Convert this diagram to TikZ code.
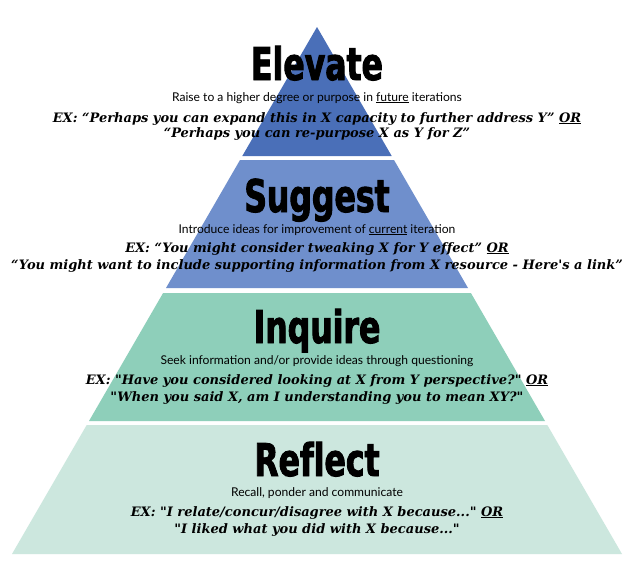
\documentclass[tikz,border=0pt]{standalone}
\usepackage{fontspec}
\newfontfamily\titlefont[FakeStretch=0.7,FakeBold=2,Ligatures=NoCommon]{DejaVu Sans}
\newfontfamily\subfont{Lato}
\newfontfamily\exfont[Ligatures=NoCommon]{DejaVu Serif}
\definecolor{elevc}{HTML}{4A6FB8}
\definecolor{suggc}{HTML}{6F8FCC}
\definecolor{inqc}{HTML}{8ECFBA}
\definecolor{reflc}{HTML}{CCE7DE}
\begin{document}
\begin{tikzpicture}[x=1pt,y=-1pt,
  ttl/.style={font=\titlefont\bfseries\fontsize{45}{45}\selectfont, anchor=base, inner sep=0pt},
  sub/.style={font=\subfont\fontsize{12.1}{13}\selectfont, anchor=base, inner sep=0pt},
  ex/.style={font=\exfont\bfseries\itshape\fontsize{13}{13}\selectfont, anchor=base, inner sep=0pt}]
\useasboundingbox (0,0) rectangle (644,563);
\fill[white] (0,0) rectangle (644,563);
% bands
\fill[elevc] (317,27) -- (391.7,156) -- (242.3,156) -- cycle;
\fill[suggc] (240,160) -- (394,160) -- (468,288) -- (166,288) -- cycle;
\fill[inqc] (163.1,293) -- (470.9,293) -- (545,421) -- (89,421) -- cycle;
\fill[reflc] (86.7,425) -- (547.3,425) -- (622,554) -- (12,554) -- cycle;
% Elevate
\node[ttl] (t1) at (317,80) {Elevate};
\node[sub] (s1) at (317,101) {Raise to a higher degree or purpose in \underline{future} iterations};
\node[ex] (e1a) at (317,122) {EX: “Perhaps you can expand this in X capacity to further address Y” \underline{OR}};
\node[ex] (e1b) at (317,137) {“Perhaps you can re-purpose X as Y for Z”};
% Suggest
\node[ttl] (t2) at (317,212) {Suggest};
\node[sub] (s2) at (317,233) {Introduce ideas for improvement of \underline{current} iteration};
\node[ex] (e2a) at (317,252) {EX: “You might consider tweaking X for Y effect” \underline{OR}};
\node[ex] (e2b) at (317,269) {“You might want to include supporting information from X resource - Here\textquotesingle s a link”};
% Inquire
\node[ttl] (t3) at (317,343) {Inquire};
\node[sub] (s3) at (317,364) {Seek information and/or provide ideas through questioning};
\node[ex] (e3a) at (317,384) {EX: "Have you considered looking at X from Y perspective?" \underline{OR}};
\node[ex] (e3b) at (317,401) {"When you said X, am I understanding you to mean XY?"};
% Reflect
\node[ttl] (t4) at (317,476) {Reflect};
\node[sub] (s4) at (317,496) {Recall, ponder and communicate};
\node[ex] (e4a) at (317,516) {EX: "I relate/concur/disagree with X because..." \underline{OR}};
\node[ex] (e4b) at (317,533) {"I liked what you did with X because..."};
\end{tikzpicture}
\end{document}
